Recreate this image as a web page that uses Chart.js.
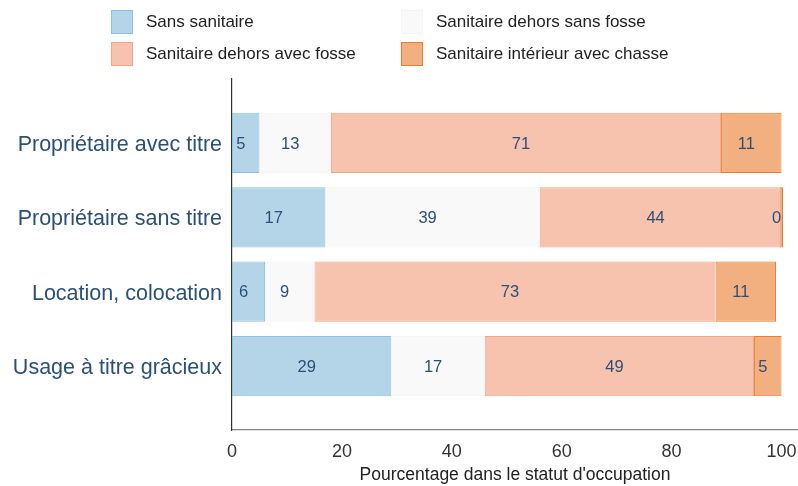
<!DOCTYPE html>
<html lang="fr">
<head>
<meta charset="utf-8">
<script src="https://cdn.jsdelivr.net/npm/chart.js@4.4.1/dist/chart.umd.min.js"></script>
<style>
  html, body { margin: 0; padding: 0; background: #fff; }
  #wrap { position: relative; width: 798px; height: 486px; }
  #legend {
    position: absolute; left: 111px; top: 10px;
    display: grid; grid-template-columns: 290px auto; row-gap: 8px;
    font-family: 'Liberation Sans', Arial, sans-serif; font-size: 17px; color: #222;
  }
  #legend .item { display: flex; align-items: center; height: 24px; }
  #legend .box { width: 22px; height: 24px; box-sizing: border-box; border: 1px solid; margin-right: 13px; }
</style>
</head>
<body>
<div id="wrap">
  <canvas id="chart" width="798" height="486"></canvas>
  <div id="legend"></div>
</div>
<script>
const categories = ['Propriétaire avec titre', 'Propriétaire sans titre', 'Location, colocation', 'Usage à titre grâcieux'];
const seriesNames = ['Sans sanitaire', 'Sanitaire dehors sans fosse', 'Sanitaire dehors avec fosse', 'Sanitaire intérieur avec chasse'];

// percentages per occupation status, one array per sanitation type
const sansSanitaire = [5, 17, 6, 29];
const dehorsSansFosse = [13, 39, 9, 17];
const dehorsAvecFosse = [71, 44, 73, 49];
const interieurChasse = [11, 0, 11, 5];

const xTicks = [0, 20, 40, 60, 80, 100];

const fills = ['#b4d5e7', '#f9f9f9', '#f7c3ae', '#f2af7f'];
const borders = ['#8ec3e0', '#f4f4f4', '#f4a582', '#ee7b2e'];

const FONT = "'Liberation Sans', Arial, sans-serif";
const LABEL_BLUE = '#2b5078';

const allSeries = [sansSanitaire, dehorsSansFosse, dehorsAvecFosse, interieurChasse];

const datasets = allSeries.map((vals, s) => ({
  label: seriesNames[s],
  data: vals.map((v, i) => ({ x: v, y: i + 1 })),
  backgroundColor: fills[s],
  borderColor: borders[s],
  borderWidth: 1,
  borderSkipped: false,
  barPercentage: 0.81,
  categoryPercentage: 1,
  minBarLength: s === 3 ? 3 : 0
}));

// value labels in the middle of each segment
const segmentLabels = {
  id: 'segmentLabels',
  afterDatasetsDraw(chart) {
    const ctx = chart.ctx;
    ctx.save();
    ctx.font = '16.5px ' + FONT;
    ctx.fillStyle = LABEL_BLUE;
    ctx.textAlign = 'center';
    ctx.textBaseline = 'middle';
    chart.data.datasets.forEach((ds, di) => {
      chart.getDatasetMeta(di).data.forEach((bar, i) => {
        const cx = (bar.x + bar.base) / 2 - 5;
        ctx.fillText(String(ds.data[i].x), cx, bar.y + 1);
      });
    });
    ctx.restore();
  }
};

const chart = new Chart(document.getElementById('chart'), {
  type: 'bar',
  data: { datasets },
  options: {
    indexAxis: 'y',
    responsive: false,
    animation: false,
    layout: { padding: { top: 79, right: 0, left: 0, bottom: 0 } },
    plugins: { legend: { display: false }, tooltip: { enabled: false } },
    scales: {
      x: {
        type: 'linear',
        stacked: true,
        min: 0,
        max: 103,
        grid: { display: false, drawTicks: false },
        border: { display: true, color: '#888', width: 1.2 },
        afterBuildTicks(scale) { scale.ticks = xTicks.map(v => ({ value: v })); },
        afterFit(scale) {
          scale.height = 56;
          scale.paddingLeft = 0;
          scale.paddingRight = 0;
        },
        ticks: { padding: 11, color: '#333', font: { family: FONT, size: 18 }, maxRotation: 0 },
        title: {
          display: true,
          text: "Pourcentage dans le statut d'occupation",
          color: '#222',
          font: { family: FONT, size: 17.5 },
          padding: 0
        }
      },
      y: {
        type: 'linear',
        stacked: true,
        reverse: true,
        offset: false,
        min: 0.14,
        max: 4.86,
        grid: { display: false, drawTicks: false, offset: false },
        border: { display: true, color: '#333', width: 1.2 },
        afterBuildTicks(scale) { scale.ticks = categories.map((c, i) => ({ value: i + 1 })); },
        afterFit(scale) {
          scale.width = 232;
          scale.paddingTop = 0;
          scale.paddingBottom = 0;
        },
        ticks: {
          padding: 10,
          labelOffset: 2,
          color: LABEL_BLUE,
          font: { family: FONT, size: 21.5 },
          callback: v => categories[v - 1]
        }
      }
    }
  },
  plugins: [segmentLabels]
});

// two-column legend above the plot
const legend = document.getElementById('legend');
seriesNames.forEach((name, s) => {
  const item = document.createElement('div');
  item.className = 'item';
  const box = document.createElement('span');
  box.className = 'box';
  box.style.background = fills[s];
  box.style.borderColor = borders[s];
  const txt = document.createElement('span');
  txt.textContent = name;
  item.appendChild(box);
  item.appendChild(txt);
  legend.appendChild(item);
});
</script>
</body>
</html>
